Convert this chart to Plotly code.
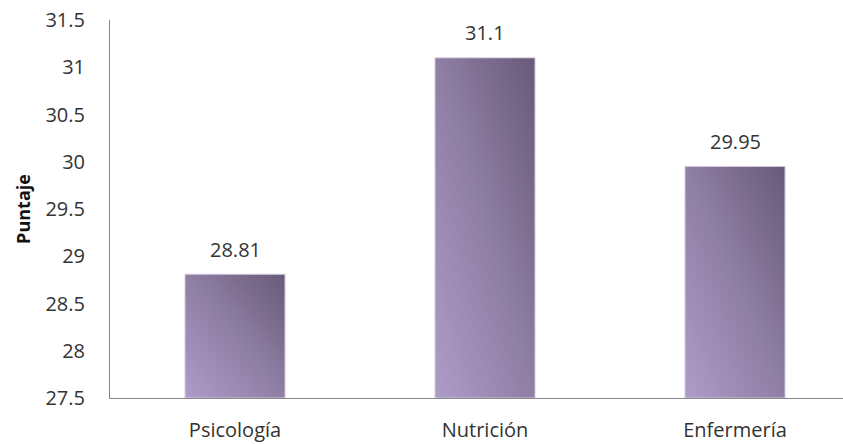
import base64
import plotly.graph_objects as go

# Puntaje promedio por carrera
carreras = ["Psicología", "Nutrición", "Enfermería"]
puntajes = [28.81, 31.1, 29.95]
y_ticks = [27.5, 28, 28.5, 29, 29.5, 30, 30.5, 31, 31.5]

Y_MIN, Y_MAX = 27.5, 31.5
BAR_W = 0.4
FONT = "'Open Sans', sans-serif"

# diagonal lavender gradient used to shade each bar
svg = (
    '<svg xmlns="http://www.w3.org/2000/svg" width="100" height="100" '
    'preserveAspectRatio="none" viewBox="0 0 100 100">'
    '<defs><linearGradient id="g" x1="0" y1="1" x2="1" y2="0">'
    '<stop offset="0" stop-color="#ad9cc8"/>'
    '<stop offset="0.5" stop-color="#8f7fa5"/>'
    '<stop offset="1" stop-color="#685a78"/>'
    '</linearGradient></defs>'
    '<rect width="100" height="100" fill="url(#g)"/>'
    '</svg>'
)
svg_uri = "data:image/svg+xml;base64," + base64.b64encode(svg.encode()).decode()

fig = go.Figure(
    go.Bar(
        x=carreras,
        y=[v - Y_MIN for v in puntajes],
        base=Y_MIN,
        width=BAR_W,
        marker=dict(color="rgba(0,0,0,0)", line=dict(width=1, color="#d3c9df")),
        hoverinfo="skip",
    )
)

# value labels above each bar
for c, v in zip(carreras, puntajes):
    fig.add_annotation(
        x=c, y=v, xref="x", yref="y",
        text=f"{v:g}", showarrow=False,
        yanchor="middle", yshift=25,
        font=dict(family=FONT, size=20, color="#333333"),
    )

fig.update_layout(
    images=[
        dict(
            source=svg_uri,
            xref="x", yref="y",
            x=i - BAR_W / 2, y=v,
            sizex=BAR_W, sizey=v - Y_MIN,
            sizing="stretch",
            xanchor="left", yanchor="top",
            layer="below",
        )
        for i, v in enumerate(puntajes)
    ],
    width=843, height=444,
    margin=dict(l=110, r=0, t=20, b=46),
    paper_bgcolor="white",
    plot_bgcolor="white",
    showlegend=False,
    font=dict(family=FONT, color="#333333"),
    xaxis=dict(
        type="category",
        range=[-0.5, 2.432],
        showline=True, linecolor="#868686", linewidth=1,
        showgrid=False, ticks="",
        tickfont=dict(family=FONT, size=20, color="#333333"),
        ticklabelstandoff=14,
    ),
    yaxis=dict(
        range=[Y_MIN, Y_MAX],
        tickvals=y_ticks,
        ticktext=[f"{t:g}" for t in y_ticks],
        showline=True, linecolor="#868686", linewidth=1,
        showgrid=False, zeroline=False, ticks="",
        tickfont=dict(family=FONT, size=20, color="#333333"),
        ticklabelstandoff=20,
        title=dict(text="<b>Puntaje</b>", font=dict(family=FONT, size=18, color="#111111"), standoff=10),
    ),
)

fig.write_html("out.html")
